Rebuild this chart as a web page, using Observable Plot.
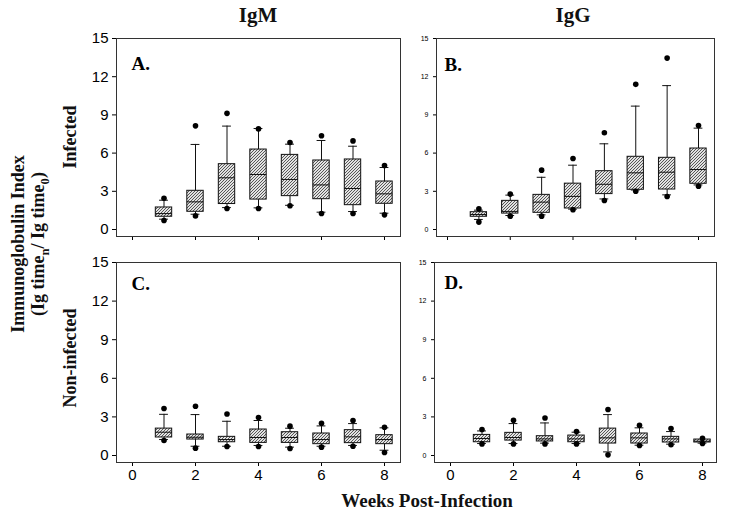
<!DOCTYPE html>
<html><head><meta charset="utf-8">
<script src="https://cdn.jsdelivr.net/npm/d3@7"></script>
<script src="https://cdn.jsdelivr.net/npm/@observablehq/plot@0.6"></script>
<style>
body{margin:0;background:#fff;}
#wrap{position:relative;width:729px;height:515px;overflow:hidden;background:#fff;font-family:"Liberation Serif","Times New Roman",serif;}
.lbl{position:absolute;white-space:nowrap;font-weight:bold;color:#111;transform:translate(-50%,-50%);line-height:1;}
.rot{transform:translate(-50%,-50%) rotate(-90deg);}
.panel{position:absolute;}
sub{font-size:70%;}
</style></head><body>
<div id="wrap"></div>
<script>
const weeks = [1, 2, 3, 4, 5, 6, 7, 8];
const xTicks = [0, 2, 4, 6, 8];
const yTicks = [0, 3, 6, 9, 12, 15];
const columnTitles = ["IgM", "IgG"];
const rowTitles = ["Infected", "Non-infected"];
const panelLabels = ["A.", "B.", "C.", "D."];

// A. IgM, infected
const A_p5  = [0.71, 1.07, 1.65, 1.65, 1.86, 1.26, 1.26, 1.15];
const A_lo  = [0.81, 1.20, 1.72, 1.70, 1.90, 1.36, 1.41, 1.28];
const A_q1  = [1.00, 1.39, 2.00, 2.35, 2.62, 2.38, 1.91, 2.02];
const A_med = [1.25, 2.17, 4.06, 4.32, 3.93, 3.50, 3.22, 2.80];
const A_q3  = [1.73, 3.04, 5.13, 6.28, 5.86, 5.42, 5.50, 3.77];
const A_hi  = [2.30, 6.68, 8.12, 7.93, 6.70, 6.99, 6.54, 4.87];
const A_p95 = [2.46, 8.14, 9.12, 7.90, 6.83, 7.36, 6.96, 5.03];

// B. IgG, infected
const B_p5  = [0.58, 1.05, 1.05, 1.55, 2.28, 3.00, 2.59, 3.40];
const B_lo  = [0.79, 1.10, 1.15, 1.60, 2.40, 3.10, 2.72, 3.50];
const B_q1  = [1.00, 1.25, 1.31, 1.65, 2.78, 3.12, 3.14, 3.59];
const B_med = [1.18, 1.42, 2.15, 2.60, 3.55, 4.45, 4.50, 4.71];
const B_q3  = [1.36, 2.25, 2.72, 3.60, 4.58, 5.71, 5.63, 6.36];
const B_hi  = [1.52, 2.70, 4.10, 5.05, 6.73, 9.69, 11.30, 7.96];
const B_p95 = [1.62, 2.78, 4.66, 5.58, 7.60, 11.40, 13.46, 8.17];

// C. IgM, non-infected
const C_p5  = [1.16, 0.57, 0.70, 0.70, 0.54, 0.65, 0.72, 0.23];
const C_lo  = [1.24, 0.72, 0.72, 0.78, 0.65, 0.72, 0.78, 0.41];
const C_q1  = [1.40, 1.24, 1.03, 0.98, 0.98, 0.88, 0.96, 0.88];
const C_med = [1.81, 1.42, 1.24, 1.40, 1.40, 1.24, 1.45, 1.24];
const C_q3  = [2.09, 1.63, 1.45, 2.02, 1.81, 1.71, 1.97, 1.58];
const C_hi  = [3.20, 3.18, 2.66, 2.72, 2.12, 2.30, 2.48, 2.15];
const C_p95 = [3.65, 3.83, 3.23, 2.95, 2.28, 2.51, 2.72, 2.20];

// D. IgG, non-infected
const D_p5  = [0.90, 0.90, 0.90, 0.90, 0.05, 0.78, 0.83, 0.93];
const D_lo  = [0.93, 0.93, 0.96, 0.93, 0.28, 0.80, 0.88, 0.96];
const D_q1  = [1.03, 1.16, 1.09, 1.03, 0.93, 0.93, 1.01, 1.01];
const D_med = [1.32, 1.40, 1.29, 1.29, 1.37, 1.37, 1.29, 1.11];
const D_q3  = [1.60, 1.76, 1.50, 1.55, 2.09, 1.71, 1.45, 1.24];
const D_hi  = [1.91, 2.48, 2.53, 1.81, 3.18, 2.15, 1.86, 1.24];
const D_p95 = [2.02, 2.74, 2.92, 1.86, 3.57, 2.35, 2.09, 1.34];

function rows(p5, lo, q1, med, q3, hi, p95) {
  return weeks.map((w, i) => ({week: w, p5: p5[i], lo: lo[i], q1: q1[i], med: med[i], q3: q3[i], hi: hi[i], p95: p95[i]}));
}

const serif = '"Liberation Serif","Times New Roman",serif';
const sans = '"Liberation Sans",Arial,sans-serif';
const wrap = document.getElementById("wrap");

function panel(o) {
  const data = o.data;
  const half = 0.26, cap = 0.14;
  const defs = () => {
    const d = d3.create("svg:defs");
    const p = d.append("pattern").attr("id", o.id).attr("patternUnits", "userSpaceOnUse")
      .attr("width", 3).attr("height", 3);
    p.append("rect").attr("width", 3).attr("height", 3).attr("fill", "#e2e2e2");
    p.append("path").attr("d", "M-1,1 l2,-2 M0,3 l3,-3 M2,4 l2,-2")
      .attr("stroke", "#333").attr("stroke-width", 0.8);
    return d.node();
  };
  const chart = Plot.plot({
    width: o.width, height: o.height,
    marginLeft: o.mL, marginRight: o.mR, marginTop: o.mT, marginBottom: o.mB,
    style: {fontFamily: sans, fontSize: "15px", color: "#000", background: "transparent", overflow: "visible"},
    x: {domain: [0, 8], insetLeft: o.inL, insetRight: o.inR, ticks: xTicks, tickSize: 4, tickPadding: 3,
        tickFormat: o.xLabels ? (d => String(d)) : (() => ""), label: null},
    y: {domain: [0, 15], insetBottom: 7, ticks: yTicks, tickSize: o.small ? 3 : 4, tickPadding: o.small ? 5 : 4, label: null},
    marks: [
      defs,
      Plot.frame({stroke: "#333"}),
      Plot.ruleX(data, {x: "week", y1: "q3", y2: "hi", stroke: "#111"}),
      Plot.ruleX(data, {x: "week", y1: "lo", y2: "q1", stroke: "#111"}),
      Plot.ruleY(data, {y: "hi", x1: d => d.week - cap, x2: d => d.week + cap, stroke: "#111"}),
      Plot.ruleY(data, {y: "lo", x1: d => d.week - cap, x2: d => d.week + cap, stroke: "#111"}),
      Plot.rect(data, {x1: d => d.week - half, x2: d => d.week + half, y1: "q1", y2: "q3", fill: `url(#${o.id})`, stroke: "#111", strokeWidth: 1}),
      Plot.ruleY(data, {y: "med", x1: d => d.week - half, x2: d => d.week + half, stroke: "#111"}),
      Plot.dot(data, {x: "week", y: "p95", r: 2.8, fill: "#000", stroke: "none"}),
      Plot.dot(data, {x: "week", y: "p5", r: 2.8, fill: "#000", stroke: "none"}),
      Plot.text([o.label], {text: d => d, frameAnchor: "top-left", dx: o.lx, dy: o.ly, textAnchor: "start", lineAnchor: "bottom",
        fontFamily: serif, fontSize: 19, fontWeight: "bold", fill: "#000"})
    ]
  });
  if (o.small) {
    d3.select(chart).selectAll('g[aria-label^="y-axis"] text').style("font-size", "7px");
  }
  chart.classList.add("panel");
  chart.style.left = o.left + "px";
  chart.style.top = o.top + "px";
  wrap.appendChild(chart);
}

panel({data: rows(A_p5, A_lo, A_q1, A_med, A_q3, A_hi, A_p95), id: "hatchA", label: panelLabels[0],
  left: 60, top: 20, width: 350, height: 240, mL: 56, mR: 10, mT: 18, mB: 24, inL: 16, inR: 16, small: false, xLabels: false, lx: 15, ly: 31});
panel({data: rows(B_p5, B_lo, B_q1, B_med, B_q3, B_hi, B_p95), id: "hatchB", label: panelLabels[1],
  left: 405, top: 20, width: 320, height: 240, mL: 31, mR: 11, mT: 18, mB: 24, inL: 11, inR: 16, small: true, xLabels: false, lx: 8, ly: 32});
panel({data: rows(C_p5, C_lo, C_q1, C_med, C_q3, C_hi, C_p95), id: "hatchC", label: panelLabels[2],
  left: 60, top: 244, width: 350, height: 262, mL: 56, mR: 10, mT: 18, mB: 44, inL: 16, inR: 16, small: false, xLabels: true, lx: 15, ly: 27});
panel({data: rows(D_p5, D_lo, D_q1, D_med, D_q3, D_hi, D_p95), id: "hatchD", label: panelLabels[3],
  left: 405, top: 244, width: 320, height: 262, mL: 29, mR: 9, mT: 18, mB: 44, inL: 16, inR: 14, small: true, xLabels: true, lx: 10, ly: 26});

function label(html, x, y, size, rot) {
  const el = document.createElement("div");
  el.className = "lbl" + (rot ? " rot" : "");
  el.innerHTML = html;
  el.style.left = x + "px";
  el.style.top = y + "px";
  el.style.fontSize = size + "px";
  wrap.appendChild(el);
}
label(columnTitles[0], 258, 15, 21, false);
label(columnTitles[1], 573, 15, 21, false);
label("Immunoglobulin Index", 18, 244, 18, true);
label("(Ig time<sub>n</sub>/ Ig time<sub>0</sub>)", 40, 244, 18, true);
label(rowTitles[0], 70, 137, 18, true);
label(rowTitles[1], 70, 358, 18, true);
label("Weeks Post-Infection", 427, 500, 19, false);
</script>
</body></html>
